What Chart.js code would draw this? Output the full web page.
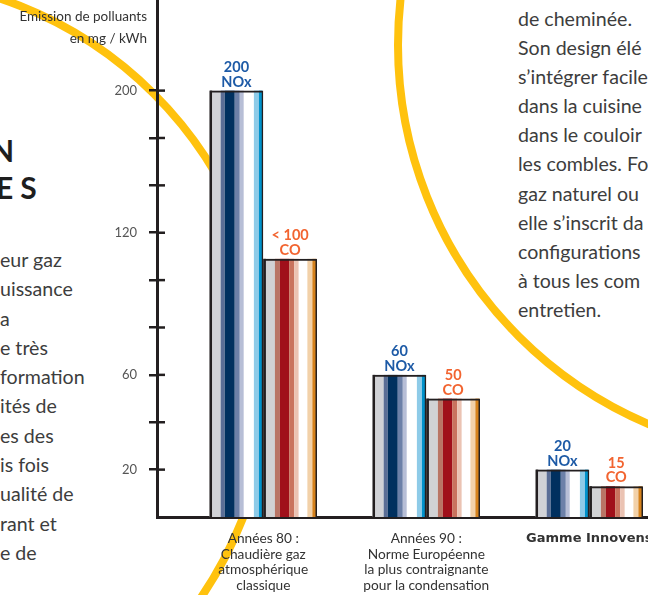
<!DOCTYPE html>
<html><head><meta charset="utf-8">
<script src="https://cdn.jsdelivr.net/npm/chart.js@4.4.1/dist/chart.umd.min.js"></script>
<style>
html,body{margin:0;padding:0;background:#fff;}
body{width:648px;height:595px;overflow:hidden;position:relative;font-family:Lato,sans-serif;}
#arcs{position:absolute;left:0;top:0;z-index:0}
.col{position:absolute;font-size:19.6px;color:#3d3d3d;white-space:nowrap;z-index:1}
#leftcol{left:0;top:245px;line-height:29.3px}
#rightcol{left:518px;top:4px;line-height:29.1px}
#head{position:absolute;left:0;top:132px;font-weight:bold;font-size:30px;line-height:37px;color:#1e1e1e;z-index:1}
#head div{position:absolute;white-space:nowrap}
#ytitle{position:absolute;right:501px;top:4.5px;text-align:right;font-size:13.5px;line-height:22px;color:#333;z-index:3;white-space:nowrap}
canvas{position:absolute;left:0;top:0;z-index:2}
</style></head>
<body>
<svg id="arcs" width="648" height="595">
  <circle cx="-126" cy="374" r="396" fill="none" stroke="#ffc20e" stroke-width="8"/>
  <circle cx="810" cy="45" r="412" fill="none" stroke="#ffc20e" stroke-width="8"/>
</svg>
<div id="head"><div style="left:-9px;top:0">N</div><div style="left:-4px;top:37px;letter-spacing:7px">ES</div></div>
<div class="col" id="leftcol">eur gaz<br>uissance<br>a<br>e très<br>formation<br>ités de<br>es des<br>is fois<br>ualité de<br>rant et<br>e de</div>
<div class="col" id="rightcol">de cheminée.<br>Son design élé<br>s’intégrer facile<br>dans la cuisine<br>dans le couloir<br>les combles. Fo<br>gaz naturel ou<br>elle s’inscrit da<br>configurations<br>à tous les com<br>entretien.</div>
<div id="ytitle">Emission de polluants<br>en mg / kWh</div>
<canvas id="c" width="648" height="595"></canvas>
<script>
// ---------- data ----------
const categories = [
  ['Années 80 :', 'Chaudière gaz', 'atmosphérique', 'classique'],
  ['Années 90 :', 'Norme Européenne', 'la plus contraignante', 'pour la condensation'],
  'Gamme Innovens'
];
const seriesNames = ['NOx', 'CO'];
const noxValues = [200, 60, 20];
const coValues = [109, 50, 13];
const noxLabels = ['200', '60', '20'];
const coLabels = ['< 100', '50', '15'];
const yTickLabels = ['20', '60', '120', '200'];
const yTickLabelSteps = [1, 3, 6, 9];
const yTickCount = 9;
const yMax = 251;

// ---------- axis with stepped labels ----------
const knotsV = [0].concat(yTickLabels.map(Number));
const knotsU = [0].concat(yTickLabelSteps);
function interp(v, from, to) {
  for (let i = 1; i < from.length; i++) {
    if (v <= from[i] || i === from.length - 1) {
      const t = (v - from[i-1]) / (from[i] - from[i-1]);
      return to[i-1] + t * (to[i] - to[i-1]);
    }
  }
}
const vToU = v => interp(v, knotsV, knotsU);
const uToV = u => interp(u, knotsU, knotsV);

class StepScale extends Chart.LinearScale {
  getPixelForValue(v) {
    if (v === null || v === undefined || isNaN(v)) return NaN;
    return this.getPixelForDecimal(vToU(v) / vToU(this.max));
  }
  getValueForPixel(p) {
    return uToV(this.getDecimalForPixel(p) * vToU(this.max));
  }
}
StepScale.id = 'stepLinear';
StepScale.defaults = Chart.LinearScale.defaults;
Chart.register(StepScale);

// ---------- styles ----------
const INK = '#231f20';
const STRIPES = [
  { total: 160, bands: [[0,8,INK],[8,33,'#d1d2d6'],[33,45,'#5b6e96'],[45,75,'#00305f'],[75,90,'#6c80a8'],[90,102,'#b7bed6'],[102,132,'#ffffff'],[132,147,'#8ecbe8'],[147,157,'#0092cb']] },
  { total: 162, bands: [[0,8,INK],[8,35,'#d1d2d4'],[35,50,'#b97565'],[50,78,'#a0101a'],[78,93,'#c9735e'],[93,107,'#ebc3b3'],[107,133,'#ffffff'],[133,148,'#f2d1a9'],[148,160,'#d6821c']] }
];
const LABEL_COLORS = ['#1d5aa6', '#f26430'];
const valueLabels = [noxLabels, coLabels];

const stripePlugin = {
  id: 'stripes',
  beforeDatasetsDraw(chart) {
    const c = chart.ctx;
    chart.data.datasets.forEach((ds, d) => {
      const st = STRIPES[d];
      chart.getDatasetMeta(d).data.forEach(el => {
        const p = el.getProps(['x','y','base','width'], true);
        const l = p.x - p.width/2, top = Math.min(p.y, p.base), h = Math.abs(p.base - p.y);
        c.save();
        c.fillStyle = '#fff';
        c.fillRect(l, top, p.width, h);
        st.bands.forEach(([a,b,col]) => {
          c.fillStyle = col;
          c.fillRect(l + a/st.total*p.width, top, (b-a)/st.total*p.width, h);
        });
        c.restore();
      });
    });
  }
};

const labelPlugin = {
  id: 'valueLabels',
  afterDatasetsDraw(chart) {
    const c = chart.ctx;
    c.save();
    c.font = 'bold 14.5px Lato';
    c.textAlign = 'center';
    c.textBaseline = 'alphabetic';
    chart.data.datasets.forEach((ds, d) => {
      c.fillStyle = LABEL_COLORS[d];
      chart.getDatasetMeta(d).data.forEach((el, i) => {
        const p = el.getProps(['x','y'], true);
        c.fillText(seriesNames[d], p.x, p.y - 4);
        c.fillText(valueLabels[d][i], p.x, p.y - 18.5);
      });
    });
    c.restore();
  }
};

const innerTicks = {
  id: 'innerTicks',
  afterDraw(chart) {
    const s = chart.scales.y, c = chart.ctx;
    c.save();
    c.strokeStyle = INK;
    c.lineWidth = 2.5;
    s.ticks.forEach((t, i) => {
      const y = s.getPixelForTick(i);
      c.beginPath();
      c.moveTo(s.right, y);
      c.lineTo(s.right + 8, y);
      c.stroke();
    });
    c.restore();
  }
};

const barStyle = { backgroundColor: 'rgba(0,0,0,0)', borderColor: INK, borderWidth: {top:2, left:2, right:1.5, bottom:0}, borderSkipped: 'bottom', categoryPercentage: 0.659, barPercentage: 1 };

new Chart(document.getElementById('c'), {
  type: 'bar',
  data: {
    datasets: [
      Object.assign({ label: seriesNames[0], data: noxValues.map((v,i) => ({x:i, y:v})) }, barStyle),
      Object.assign({ label: seriesNames[1], data: coValues.map((v,i) => ({x:i, y:v})) }, barStyle)
    ]
  },
  options: {
    responsive: false,
    animation: false,
    events: [],
    layout: { padding: 0 },
    plugins: { legend: { display: false }, tooltip: { enabled: false } },
    scales: {
      x: {
        type: 'linear', min: -0.652, max: 2.36, offset: false,
        grid: { display: false },
        border: { display: true, color: INK, width: 3 },
        afterBuildTicks: s => { s.ticks = categories.map((c,i) => ({ value: i })); },
        afterFit: s => { s.height = 78; s.paddingLeft = 0; s.paddingRight = 0; },
        ticks: {
          autoSkip: false, maxRotation: 0, minRotation: 0, padding: 6, color: '#333',
          font: ctx => ctx.index === 2 ? { family: 'DejaVu Sans', size: 13, weight: 'bold', lineHeight: 1.13 } : { family: 'Lato', size: 13.7, lineHeight: 1.13 },
          callback: (v, i) => categories[i]
        }
      },
      y: {
        type: 'stepLinear', min: 0, max: yMax, position: 'left',
        grid: { display: true, drawOnChartArea: false, drawTicks: true, tickLength: 8, color: INK, lineWidth: 2.5 },
        border: { display: true, color: INK, width: 3 },
        afterBuildTicks: s => { s.ticks = Array.from({ length: yTickCount }, (_, k) => ({ value: uToV(k + 1) })); },
        afterFit: s => { s.width = 157; s.paddingTop = 0; s.paddingBottom = 0; },
        ticks: {
          autoSkip: false, padding: 12, color: '#555', font: { family: 'Lato', size: 13 },
          callback: v => { const k = yTickLabels.findIndex(l => Math.abs(Number(l) - v) < 1e-6); return k >= 0 ? yTickLabels[k] : ''; }
        }
      }
    }
  },
  plugins: [stripePlugin, labelPlugin, innerTicks]
});
</script>
</body></html>
